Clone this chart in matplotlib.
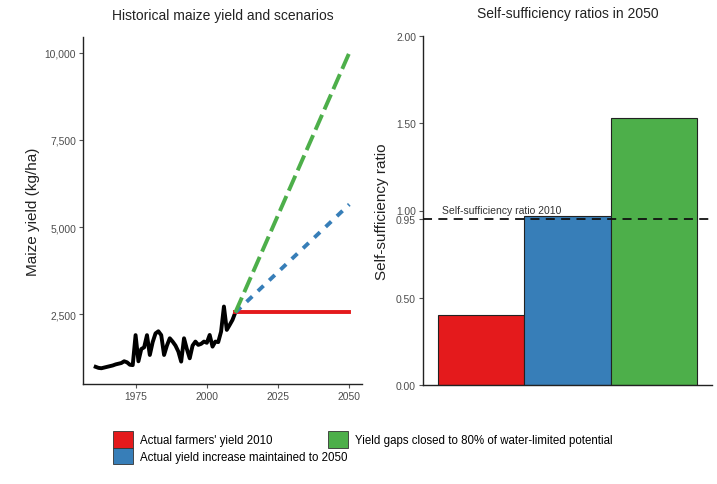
import numpy as np
import matplotlib
matplotlib.use('Agg')
import matplotlib.pyplot as plt
from matplotlib.patches import Patch
from matplotlib.ticker import FuncFormatter

plt.rcParams['font.family'] = ['Liberation Sans', 'DejaVu Sans']

# ========================================================================
# data
years = list(range(1961, 2011))
yield_hist = [990, 960, 950, 970, 990, 1010, 1030, 1060, 1080, 1100,
              1150, 1120, 1050, 1040, 1900, 1150, 1500, 1550, 1900, 1330,
              1700, 1950, 2010, 1900, 1330, 1600, 1810, 1715, 1600, 1430,
              1140, 1810, 1500, 1235, 1600, 1715, 1620, 1650, 1715, 1680,
              1905, 1570, 1715, 1700, 2000, 2720, 2050, 2190, 2335, 2550]

scen_years = [2010, 2050]
scen_flat = [2550, 2550]
scen_trend = [2550, 5650]
scen_gap = [2550, 10000]

bar_labels = ["Actual farmers' yield 2010",
              "Actual yield increase maintained to 2050",
              "Yield gaps closed to 80% of water-limited potential"]
bar_values = [0.40, 0.97, 1.53]
ratio_2010 = 0.95

red, blue, green = '#E41A1C', '#377EB8', '#4DAF4A'
colors = [red, blue, green]
tick_col = '#4D4D4D'

# ========================================================================
W, H = 717, 485
fig = plt.figure(figsize=(W / 100, H / 100), dpi=100)

def frac(x0, y0, x1, y1):
    return [x0 / W, 1 - y1 / H, (x1 - x0) / W, (y1 - y0) / H]

def style(ax):
    for s in ['top', 'right']:
        ax.spines[s].set_visible(False)
    for s in ['left', 'bottom']:
        ax.spines[s].set_linewidth(1.0)
        ax.spines[s].set_color('#222222')
    ax.tick_params(direction='out', length=3, width=0.8, color='#555555',
                   labelsize=7.4, labelcolor=tick_col, pad=2)

# left panel
ax1 = fig.add_axes(frac(83, 38, 362, 385))
style(ax1)
ax1.plot(years, yield_hist, color='black', lw=2.8, solid_joinstyle='round')
ax1.plot(scen_years, scen_flat, color=red, lw=2.8)
ax1.plot(scen_years, scen_trend, color=blue, lw=2.8, dashes=(2.0, 2.0))
ax1.plot(scen_years, scen_gap, color=green, lw=2.8, dashes=(4.2, 1.5))
ax1.set_xlim(1956.55, 2054.45)
ax1.set_ylim(498, 10452)
ax1.set_xticks([1975, 2000, 2025, 2050])
ax1.set_yticks([2500, 5000, 7500, 10000])
ax1.yaxis.set_major_formatter(FuncFormatter(lambda v, p: '{:,.0f}'.format(v)))
ax1.set_ylabel('Maize yield (kg/ha)', fontsize=11, color='#222222', labelpad=3)
ax1.set_title('Historical maize yield and scenarios', fontsize=10, color='#222222', pad=13)

# right panel
ax2 = fig.add_axes(frac(423, 37, 712, 386))
style(ax2)
xpos = np.arange(1, len(bar_values) + 1)
ax2.bar(xpos, bar_values, width=1.0, color=colors, edgecolor='#222222', linewidth=0.8)
ax2.axhline(ratio_2010, color='#111111', lw=1.3, dashes=(5, 3.5), zorder=3)
ax2.text(0.55, ratio_2010 + 0.025, 'Self-sufficiency ratio 2010', fontsize=7.5,
         color='#333333', ha='left', va='bottom')
ax2.set_xlim(0.326, 3.674)
ax2.set_ylim(0, 2.0)
ax2.set_xticks([])
ax2.set_yticks([0, 0.5, ratio_2010, 1.0, 1.5, 2.0])
ax2.yaxis.set_major_formatter(FuncFormatter(lambda v, p: '{:.2f}'.format(v)))
ax2.set_ylabel('Self-sufficiency ratio', fontsize=11, color='#222222', labelpad=5)
ax2.set_title('Self-sufficiency ratios in 2050', fontsize=10, color='#222222', pad=14)

# legend
handles = [Patch(facecolor=c, edgecolor='#333333', linewidth=0.6) for c in colors]
common = dict(frameon=False, fontsize=8.3, handlelength=1.75, handleheight=1.85,
              handletextpad=0.55, labelspacing=0.0, borderpad=0, borderaxespad=0,
              loc='upper left')
fig.legend(handles[:2], bar_labels[:2], bbox_to_anchor=(113 / W, 1 - 432 / H), **common)
fig.legend(handles[2:], bar_labels[2:], bbox_to_anchor=(328 / W, 1 - 432 / H), **common)

fig.savefig('out.png', dpi=100)
